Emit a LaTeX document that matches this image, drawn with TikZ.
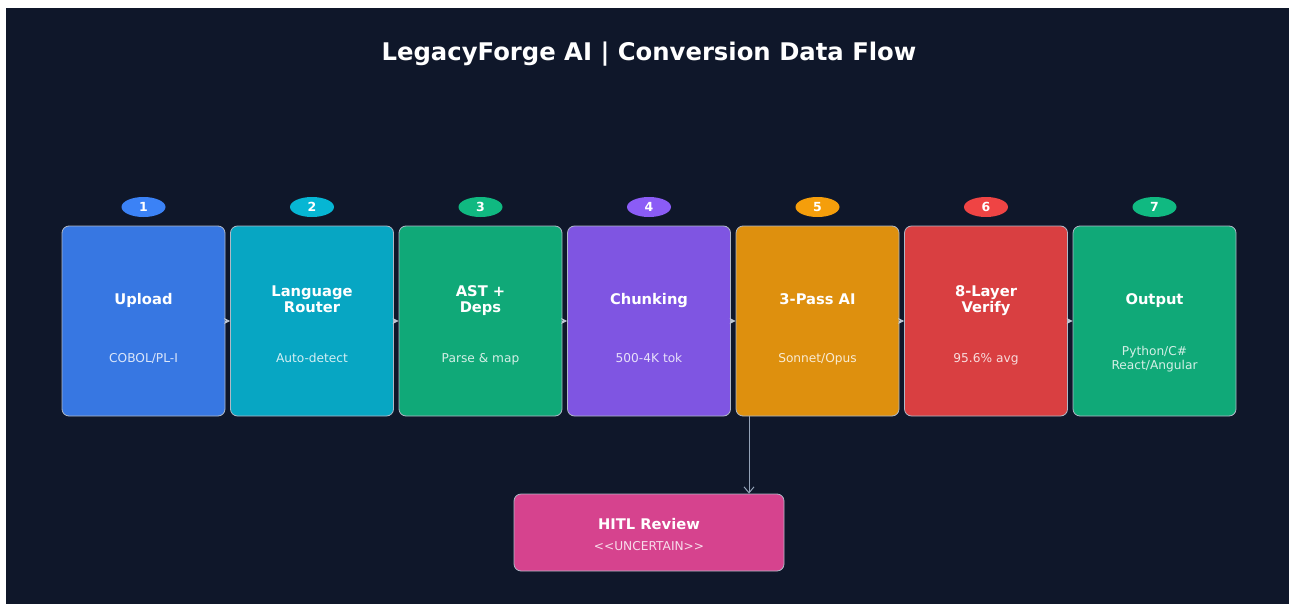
\documentclass[tikz,border=0pt]{standalone}
\usepackage{fontspec}
\setmainfont{DejaVu Sans}
\usetikzlibrary{arrows.meta,shapes.geometric}
\definecolor{bg}{HTML}{0F172A}
\definecolor{edge}{HTML}{CBD5E1}
\definecolor{link}{HTML}{94A3B8}
\definecolor{cblue}{HTML}{3B82F6}
\definecolor{ccyan}{HTML}{06B6D4}
\definecolor{cgreen}{HTML}{10B981}
\definecolor{cviolet}{HTML}{8B5CF6}
\definecolor{camber}{HTML}{F59E0B}
\definecolor{cred}{HTML}{EF4444}
\definecolor{cpink}{HTML}{EC4899}
\colorlet{fblue}{cblue!90!bg}
\colorlet{fcyan}{ccyan!90!bg}
\colorlet{fgreen}{cgreen!90!bg}
\colorlet{fviolet}{cviolet!90!bg}
\colorlet{famber}{camber!90!bg}
\colorlet{fred}{cred!90!bg}
\colorlet{fpink}{cpink!90!bg}
\begin{document}
\begin{tikzpicture}[x=1pt,y=-1pt,
  stagebox/.style={draw=edge!85!bg, line width=0.8pt, rounded corners=7pt,
    minimum width=163pt, minimum height=190pt, inner sep=0pt},
  badge/.style={ellipse, minimum width=44pt, minimum height=20pt, inner sep=0pt,
    text=white, font=\bfseries\fontsize{12.5}{14}\selectfont},
  stagetitle/.style={text=white, align=center, inner sep=0pt,
    font=\bfseries\fontsize{14.7}{16.5}\selectfont},
  stagesub/.style={text=white, text opacity=0.82, align=center, inner sep=0pt,
    font=\fontsize{12.2}{13.2}\selectfont},
  flow/.style={draw=link!60!white, line width=0.8pt,
    -{Stealth[length=6pt,width=6pt]}},
  drop/.style={draw=link, line width=1pt,
    -{Straight Barb[length=6pt,width=10pt]}}
]
\useasboundingbox (0,0) rectangle (1289,604);
\fill[white] (0,0) rectangle (1289,604);
\fill[bg] (6,8) rectangle (1289,604);

\node[text=white, inner sep=0pt, font=\bfseries\fontsize{24.3}{28}\selectfont]
  (title) at (649,55) {\strut LegacyForge AI | Conversion Data Flow\strut};

% pipeline stages
\foreach \i/\x/\fc/\bc/\ttl/\sub in {
  1/143.5/fblue/cblue/{Upload}/{COBOL/PL-I},
  2/312/fcyan/ccyan/{Language\\Router}/{Auto-detect},
  3/480.5/fgreen/cgreen/{AST +\\Deps}/{Parse \& map},
  4/649/fviolet/cviolet/{Chunking}/{500-4K tok},
  5/817.5/famber/camber/{3-Pass AI}/{Sonnet/Opus},
  6/986/fred/cred/{8-Layer\\Verify}/{95.6\% avg},
  7/1154.5/fgreen/cgreen/{Output}/{Python/C\#\\React/Angular}}{
  \node[stagebox, fill=\fc] (b\i) at (\x,321) {};
  \node[badge, fill=\bc] (n\i) at (\x,207) {\i};
  \node[stagetitle] (t\i) at (\x,301) {\strut\ttl\strut};
  \node[stagesub] (s\i) at (\x,359.5) {\strut\sub\strut};
}

\foreach \a/\b in {1/2,2/3,3/4,4/5,5/6,6/7}
  \draw[flow] (b\a.east) -- (b\b.west);

% human review branch
\node[draw=edge!85!bg, line width=0.8pt, rounded corners=7pt, fill=fpink,
  minimum width=270pt, minimum height=77pt, inner sep=0pt] (hitl) at (649,532.5) {};
\node[stagetitle] (ht) at (649,526) {\strut HITL Review\strut};
\node[stagesub] (hs) at (649,548) {\strut<{}<UNCERTAIN>{}>\strut};

\coordinate (tap) at (749,0);
\draw[drop] (b5.south -| tap) -- (hitl.north -| tap);
\end{tikzpicture}
\end{document}
